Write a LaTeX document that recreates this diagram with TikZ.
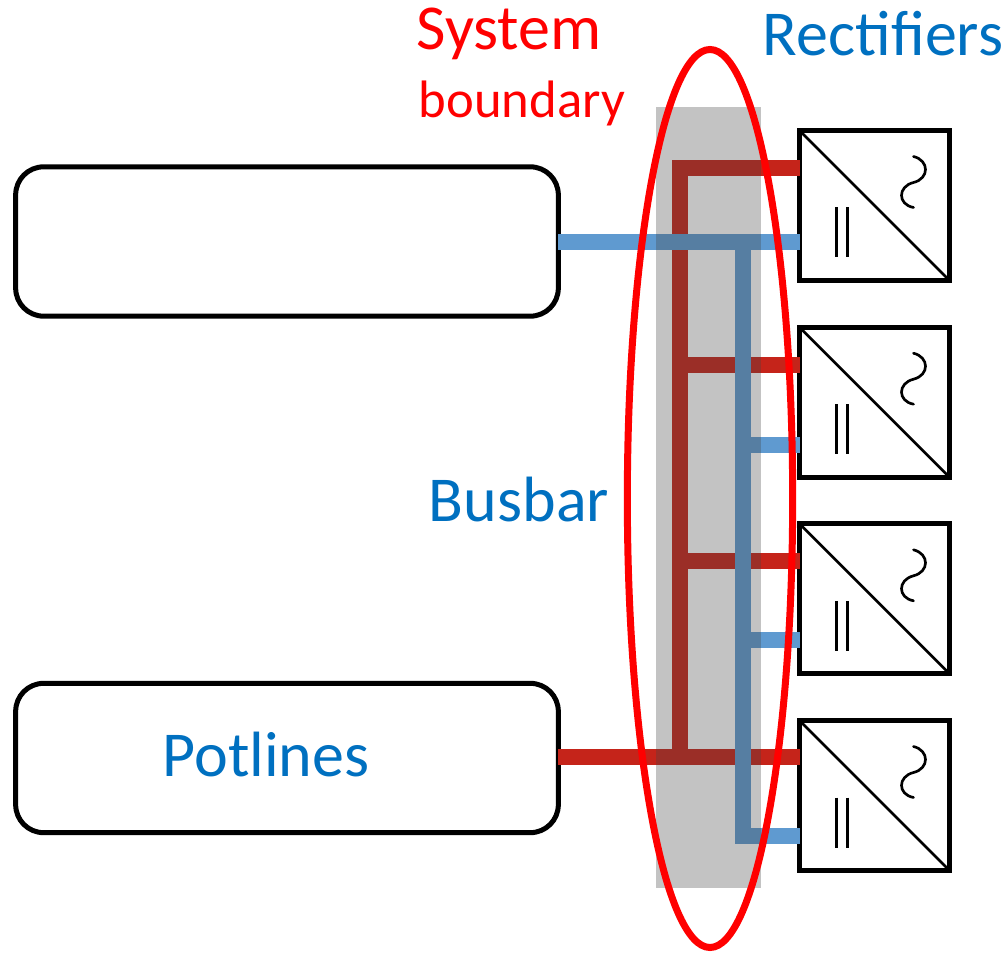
\documentclass[tikz,border=0pt]{standalone}
\usepackage{fontspec}
\setmainfont{Carlito}
\usetikzlibrary{shapes.geometric, positioning, calc}
\definecolor{busred}{HTML}{C5241A}
\definecolor{busblue}{HTML}{5F9AD0}
\definecolor{bandgrey}{HTML}{444444}
\definecolor{labelblue}{HTML}{0070C0}
\definecolor{labelred}{HTML}{FF0000}

\begin{document}
\begin{tikzpicture}[x=0.75pt, y=-0.75pt]
    \tikzstyle{potbox} = [rectangle, rounded corners=21pt, minimum width=407pt, minimum height=112pt,
      draw=black, line width=3.75pt, fill=white, outer sep=0pt, inner sep=0pt]
    \tikzstyle{rectbox} = [rectangle, minimum width=112.5pt, minimum height=112.5pt,
      draw=black, line width=3.75pt, fill=white, outer sep=0pt, inner sep=0pt]
    \tikzstyle{redbar} = [draw=busred, line width=12pt]
    \tikzstyle{bluebar} = [draw=busblue, line width=12pt]
    \tikzstyle{symline} = [draw=black, line width=2pt]

    \useasboundingbox (0,0) rectangle (1007,955);

    \node (upperbox) [potbox] at (287,241.5) {};
    \node (potlines) [potbox] at (287,758) {};
    \node (rectA) [rectbox] at (874.5,205.5) {};
    \node (rectB) [rectbox] at (874.5,402.2) {};
    \node (rectC) [rectbox] at (874.5,598.8) {};
    \node (rectD) [rectbox] at (874.5,795.5) {};

    % converter symbols
    \foreach \rname in {rectA,rectB,rectC,rectD} {
      \draw [symline] (\rname.north west) -- (\rname.south east);
      \draw [symline] ([shift={(37,77)}]\rname.north west) -- ([shift={(37,127)}]\rname.north west);
      \draw [symline] ([shift={(48,77)}]\rname.north west) -- ([shift={(48,127)}]\rname.north west);
      \draw [symline, line cap=round] ([shift={(114,26)}]\rname.north west)
        .. controls ([shift={(130,30)}]\rname.north west) and ([shift={(130,48)}]\rname.north west) .. ([shift={(114,52)}]\rname.north west)
        .. controls ([shift={(98,56)}]\rname.north west) and ([shift={(98,74)}]\rname.north west) .. ([shift={(114,77)}]\rname.north west);
    }

    \coordinate (redA) at (680,168);
    \coordinate (redB) at (680,365);
    \coordinate (redC) at (680,561);
    \coordinate (redD) at (680,757);
    \coordinate (blueA) at (743,242);
    \coordinate (blueB) at (743,445);
    \coordinate (blueC) at (743,640);
    \coordinate (blueD) at (743,836);

    % red bus
    \draw [redbar] (rectA.west |- redA) -- (redA) -- (redD);
    \draw [redbar] (redB) -- (rectB.west |- redB);
    \draw [redbar] (redC) -- (rectC.west |- redC);
    \draw [redbar] (potlines.east |- redD) -- (rectD.west |- redD);

    % blue bus
    \draw [bluebar] (upperbox.east |- blueA) -- (rectA.west |- blueA);
    \draw [bluebar] (blueA) -- (blueD) -- (rectD.west |- blueD);
    \draw [bluebar] (blueB) -- (rectB.west |- blueB);
    \draw [bluebar] (blueC) -- (rectC.west |- blueC);

    \node (band) [rectangle, fill=bandgrey, opacity=0.32, minimum width=78.75pt, minimum height=585.75pt,
      inner sep=0pt] at (708.5,497.5) {};
    \node (boundary) [ellipse, draw=labelred, line width=5.25pt, minimum width=124pt, minimum height=673.5pt,
      inner sep=0pt, outer sep=0pt] at (710,498.5) {};

    \node (system) [text=labelred, font=\fontsize{48}{48}\selectfont] at (509,34) {System};
    \node (boundarytext) [text=labelred, font=\fontsize{39.5}{39.5}\selectfont] at (522,103) {boundary};
    \node (rectifiers) [text=labelblue, font=\fontsize{48}{48}\selectfont] at (883,34) {Rectifiers};
    \node (busbar) [text=labelblue, font=\fontsize{48}{48}\selectfont] at (519,500) {Busbar};
    \node (potlinestext) [text=labelblue, font=\fontsize{48}{48}\selectfont] at (266,755) {Potlines};
\end{tikzpicture}
\end{document}
